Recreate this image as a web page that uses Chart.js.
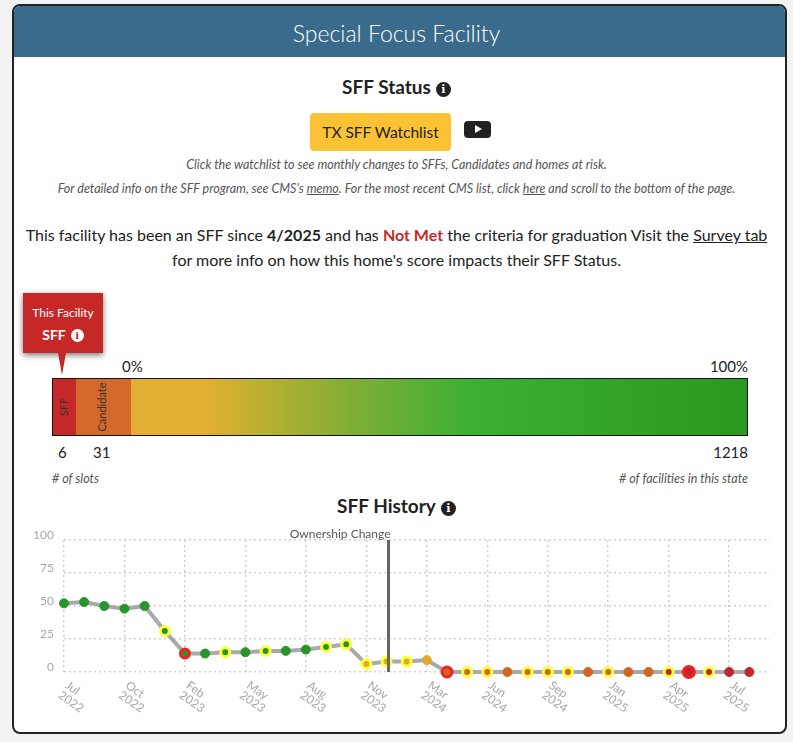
<!DOCTYPE html>
<html>
<head>
<meta charset="utf-8">
<script src="https://cdn.jsdelivr.net/npm/chart.js@4.4.1/dist/chart.umd.min.js"></script>
<style>
body{margin:0;background:#f2f2f2;font-family:Lato,"Open Sans",sans-serif;color:#222;}
.card{position:absolute;left:12px;top:4px;width:771px;height:726px;background:#fff;border:2px solid #222;border-radius:8px;overflow:hidden;}
.head{position:absolute;left:0;top:0;width:771px;height:51px;background:#3a6b8c;}
.t{position:absolute;white-space:nowrap;}
.c{left:0;width:793px;text-align:center;}
.ic{display:inline-block;width:15px;height:15px;border-radius:50%;background:#222;color:#fff;font:bold 11px/15px "DejaVu Serif",serif;text-align:center;vertical-align:1px;margin-left:5px;}
.small{font-size:12.5px;font-style:italic;color:#555;line-height:15px;}
.btn{position:absolute;left:310px;top:113px;width:141px;height:38px;background:#fbc234;border-radius:4px;font-size:15.5px;line-height:38px;text-align:center;color:#222;}
.play{position:absolute;left:464px;top:121px;width:27px;height:17px;background:#222;border-radius:4px;}
.play:after{content:"";position:absolute;left:11px;top:4px;border-left:7px solid #fff;border-top:4.5px solid transparent;border-bottom:4.5px solid transparent;}
.tip{position:absolute;left:23px;top:293px;width:80px;height:60px;background:#c62828;box-shadow:0 2px 6px rgba(0,0,0,.55);color:#fff;text-align:center;}
.arrow{position:absolute;left:58px;top:353px;border-left:4.5px solid transparent;border-right:4.5px solid transparent;border-top:22px solid #c62828;}
.bar{position:absolute;left:52px;top:378px;width:694px;height:56px;border:1.5px solid #111;background:linear-gradient(90deg,#e2af32 0%,#e2af32 22%,#a8b030 34%,#80ae35 43%,#3cb034 60%,#2a981f 100%);}
.seg{position:absolute;top:0;height:56px;}
.vt{position:absolute;top:21px;width:60px;height:14px;line-height:14px;text-align:center;font-size:11px;color:#333;transform:rotate(-90deg);white-space:nowrap;}
.lbl{font-size:15px;line-height:18px;color:#222;}
#wrap{position:absolute;left:20px;top:520px;width:755px;height:200px;}
</style>
</head>
<body>
<div class="card"><div class="head"></div></div>
<div class="t c" style="top:18px;font-size:23px;font-weight:300;color:#fff;line-height:30px;">Special Focus Facility</div>
<div class="t c" style="top:75px;font-size:19px;font-weight:bold;line-height:24px;">SFF Status<span class="ic">i</span></div>
<div class="btn">TX SFF Watchlist</div>
<div class="play"></div>
<div class="t c small" style="top:157px;">Click the watchlist to see monthly changes to SFFs, Candidates and homes at risk.</div>
<div class="t c small" style="top:181px;">For detailed info on the SFF program, see CMS's <u>memo</u>. For the most recent CMS list, click <u>here</u> and scroll to the bottom of the page.</div>
<div class="t c" style="top:225px;font-size:16px;line-height:20px;">This facility has been an SFF since <b>4/2025</b> and has <b style="color:#c62828">Not Met</b> the criteria for graduation Visit the <u>Survey tab</u></div>
<div class="t c" style="top:250px;font-size:16px;line-height:20px;">for more info on how this home's score impacts their SFF Status.</div>

<div class="tip">
  <div style="font-size:12px;margin-top:12px;line-height:16px;">This Facility</div>
  <div style="font-size:14px;font-weight:bold;line-height:18px;margin-top:5px;">SFF<span class="ic" style="background:#fff;color:#c62828;width:13px;height:13px;line-height:13px;font-size:10px;">i</span></div>
</div>
<div class="arrow"></div>

<div class="t lbl" style="left:122px;top:357px;">0%</div>
<div class="t lbl" style="right:45px;top:357px;">100%</div>
<div class="bar">
  <div class="seg" style="left:0;width:23px;background:#c62828;"></div>
  <div class="seg" style="left:23px;width:55px;background:#d5692a;"></div>
  <div class="vt" style="left:-19.5px;">SFF</div>
  <div class="vt" style="left:18.5px;">Candidate</div>
</div>
<div class="t lbl" style="left:58px;top:443px;">6</div>
<div class="t lbl" style="left:93px;top:443px;">31</div>
<div class="t lbl" style="right:45px;top:443px;">1218</div>
<div class="t small" style="left:52px;top:471px;"># of slots</div>
<div class="t small" style="right:45px;top:471px;"># of facilities in this state</div>

<div class="t c" style="top:494px;font-size:19px;font-weight:bold;line-height:24px;">SFF History<span class="ic">i</span></div>

<div id="wrap"><canvas id="hist"></canvas></div>

<script>
// months shown on the history chart (last slot is empty)
const months = ['Jul 2022','Aug 2022','Sep 2022','Oct 2022','Nov 2022','Dec 2022','Feb 2023','Mar 2023','Apr 2023',
  'May 2023','Jun 2023','Jul 2023','Aug 2023','Sep 2023','Oct 2023','Nov 2023','Dec 2023','Jan 2024',
  'Mar 2024','Apr 2024','May 2024','Jun 2024','Jul 2024','Aug 2024','Sep 2024','Oct 2024','Nov 2024',
  'Jan 2025','Feb 2025','Mar 2025','Apr 2025','May 2025','Jun 2025','Jul 2025','Aug 2025',''];
// score each month
const scores = [52, 53, 50, 48, 50, 31, 14, 14, 15, 15, 16, 16, 17, 19, 21, 6, 8, 8,
  9, 0, 0, 0, 0, 0, 0, 0, 0, 0, 0, 0, 0, 0, 0, 0, 0, null];
// status each month: g = fine, a = at risk, c = candidate, s = sff
const status = ['g','g','g','g','g','g','g','g','g','g','g','g','g','g','g','a','a','a',
  'a','c','c','c','c','c','c','c','c','c','c','c','s','s','s','s','s'];
// ring around the point: y = changed, r = status change
const rings = ['','','','','','y','r','','y','','y','','','y','y','y','y','y',
  '','r','y','y','','y','y','y','','y','','','y','r','y','',''];
const ownershipIdx = 16;
const yTicks = [0, 25, 50, 75, 100];

const fillCol = {g:'#27952a', a:'#e0aa2e', c:'#d2661f', s:'#c3262a'};
const ringCol = {y:'#ffff3c', r:'#f52020'};

const ownershipLine = {
  id: 'ownership',
  afterDatasetsDraw(chart) {
    const ctx = chart.ctx, area = chart.chartArea;
    const x = chart.scales.x.getPixelForValue(ownershipIdx) + 2;
    ctx.save();
    ctx.strokeStyle = '#666';
    ctx.lineWidth = 3;
    ctx.beginPath();
    ctx.moveTo(x, area.top);
    ctx.lineTo(x, area.bottom);
    ctx.stroke();
    ctx.font = '12px Lato';
    ctx.fillStyle = '#555';
    ctx.textAlign = 'right';
    ctx.textBaseline = 'bottom';
    ctx.fillText('Ownership Change', x + 2, area.top);
    ctx.restore();
  }
};

// x labels lean down to the right, so draw them by hand
const slantLabels = {
  id: 'slant',
  afterDraw(chart) {
    const ctx = chart.ctx, xs = chart.scales.x, bottom = chart.chartArea.bottom;
    ctx.save();
    ctx.font = '12px Lato';
    ctx.fillStyle = '#a2a6ad';
    ctx.textAlign = 'left';
    ctx.textBaseline = 'middle';
    months.forEach((m, i) => {
      if (i % 3 || !m) return;
      const parts = m.split(' ');
      ctx.save();
      ctx.translate(xs.getPixelForValue(i) + 2.5, bottom + 12);
      ctx.rotate(35 * Math.PI / 180);
      ctx.fillText(parts[0], 0, 0);
      ctx.fillText(parts[1], 0, 12);
      ctx.restore();
    });
    ctx.restore();
  }
};

const grey = '#cfcfcf';
new Chart(document.getElementById('hist'), {
  type: 'line',
  data: {
    labels: months,
    datasets: [{
      data: scores,
      borderColor: '#a9a9a9',
      borderWidth: 4,
      tension: 0,
      clip: false,
      pointBackgroundColor: status.map(s => fillCol[s]),
      pointBorderColor: status.map((s, i) => rings[i] ? ringCol[rings[i]] : fillCol[s]),
      pointBorderWidth: rings.map(r => r ? 3 : 1),
      pointRadius: rings.map((r, i) => i === 31 ? 5.5 : (i === 19 ? 5 : 4.5))
    }]
  },
  options: {
    responsive: true,
    maintainAspectRatio: false,
    animation: false,
    layout: {padding: {top: 20, bottom: 48, left: 0, right: 4}},
    plugins: {legend: {display: false}, tooltip: {enabled: false}},
    scales: {
      x: {
        ticks: {display: false, autoSkip: false},
        grid: {drawTicks: false, lineWidth: 1.5,
          color: c => (c.index % 3 === 0 && months[c.index]) ? grey : 'rgba(0,0,0,0)'},
        border: {display: false, dash: [2, 3]}
      },
      y: {
        min: 0, max: 100,
        afterFit: s => { s.width = 44; },
        afterBuildTicks: s => { s.ticks = yTicks.map(v => ({value: v})); },
        ticks: {color: '#a8a8a8', font: {size: 12, family: 'Lato'}, padding: 10, labelOffset: -5},
        grid: {drawTicks: false, color: grey, lineWidth: 1.5},
        border: {display: false, dash: [2, 3]}
      }
    }
  },
  plugins: [ownershipLine, slantLabels]
});
</script>
</body>
</html>
